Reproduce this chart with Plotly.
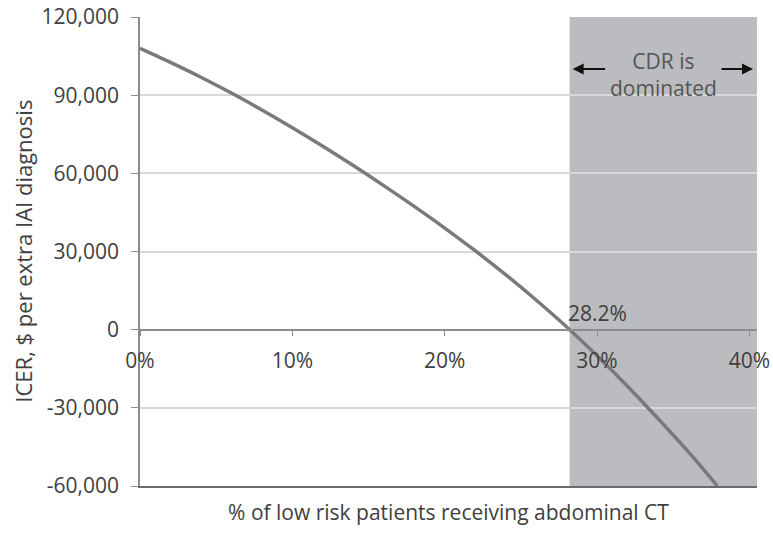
import plotly.graph_objects as go

# Data
pct = [0.00, 0.02, 0.04, 0.06, 0.08, 0.10, 0.12, 0.14, 0.16, 0.18, 0.20,
       0.22, 0.24, 0.26, 0.28, 0.282, 0.30, 0.32, 0.34, 0.36, 0.379]
icer = [108000, 102600, 96900, 90800, 84300, 77500, 70400, 63000, 55300, 47300, 39000,
        30300, 21100, 11400, 1100, 0, -10000, -21700, -34100, -46900, -60000]

threshold = 0.282
threshold_label = "28.2%"
x_max = 0.405
y_min, y_max = -60000, 120000

x_tickvals = [0, 0.1, 0.2, 0.3, 0.4]
x_ticktext = ["0%", "10%", "20%", "30%", "40%"]
y_tickvals = [-60000, -30000, 0, 30000, 60000, 90000, 120000]
y_ticktext = ["-60,000", "-30,000", "0", "30,000", "60,000", "90,000", "120,000"]

FONT = "Open Sans"
TXT = "#404040"
FS = 21

fig = go.Figure()

# invisible trace to bind the bottom axis
fig.add_trace(go.Scatter(x=pct, y=icer, mode="lines", line=dict(width=0),
                         opacity=0, hoverinfo="skip", showlegend=False, xaxis="x", yaxis="y"))
fig.add_trace(go.Scatter(x=pct, y=icer, mode="lines",
                         line=dict(color="#7a7a7a", width=3.5, shape="spline", smoothing=1),
                         showlegend=False, xaxis="x2", yaxis="y"))

fig.add_shape(type="rect", xref="x", yref="paper", x0=threshold, x1=x_max, y0=0, y1=1,
              fillcolor="#bbbcbf", line_width=0, layer="between")

fig.add_annotation(x=threshold, y=0, xref="x", yref="y", text=threshold_label,
                   showarrow=False, xanchor="left", yanchor="bottom", xshift=-4, yshift=1,
                   font=dict(family=FONT, size=FS, color=TXT))
fig.add_annotation(x=(threshold + x_max) / 2, y=98000, xref="x", yref="y",
                   text="CDR is<br>dominated", showarrow=False,
                   font=dict(family=FONT, size=FS, color="#555555"))
fig.add_annotation(x=threshold, y=100000, xref="x", yref="y", text="", showarrow=True,
                   ax=37, ay=0, arrowhead=2, arrowsize=1.1, arrowwidth=2, arrowcolor="#111111",
                   standoff=3)
fig.add_annotation(x=x_max, y=100000, xref="x", yref="y", text="", showarrow=True,
                   ax=-37, ay=0, arrowhead=2, arrowsize=1.1, arrowwidth=2, arrowcolor="#111111",
                   standoff=4)
# y-axis title
fig.add_annotation(x=-0.191, y=0.5, xref="paper", yref="paper", xanchor="center", yanchor="middle",
                   text="ICER, $ per extra IAI diagnosis", textangle=-90, showarrow=False,
                   font=dict(family=FONT, size=22, color=TXT))

fig.update_layout(
    width=773, height=535,
    margin=dict(l=140, r=16, t=17, b=49),
    paper_bgcolor="white", plot_bgcolor="white",
    font=dict(family=FONT, size=FS, color=TXT),
    xaxis=dict(range=[0, x_max], showline=True, linecolor="#6a6a6a", linewidth=1.5,
               showticklabels=False, ticks="", showgrid=False, zeroline=False, automargin=False,
               title=dict(text="% of low risk patients receiving abdominal CT", standoff=19,
                          font=dict(family=FONT, size=FS, color=TXT))),
    xaxis2=dict(range=[0, x_max], overlaying="x", anchor="free",
                position=(0 - y_min) / (y_max - y_min),
                showline=True, linecolor="#8c8c8c", linewidth=1.5,
                ticks="outside", ticklen=6, tickcolor="#8c8c8c", tickwidth=1,
                tickvals=x_tickvals, ticktext=x_ticktext, ticklabelstandoff=6, automargin=False,
                showgrid=False, zeroline=False, tickfont=dict(family=FONT, size=FS, color=TXT)),
    yaxis=dict(range=[y_min, y_max], showline=True, linecolor="#8c8c8c", linewidth=1.5,
               ticks="outside", ticklen=7, tickcolor="#8c8c8c",
               tickvals=y_tickvals, ticktext=y_ticktext, ticklabelstandoff=8, automargin=False,
               showgrid=True, gridcolor="#d9d9d9", gridwidth=1.5, zeroline=False,
               tickfont=dict(family=FONT, size=FS, color=TXT)),
)

# remove the page's default 8px body margin so the figure sits at the window's corner
fig.write_html("out.html", config={"displayModeBar": False},
               post_script="document.body.style.margin='0';")
